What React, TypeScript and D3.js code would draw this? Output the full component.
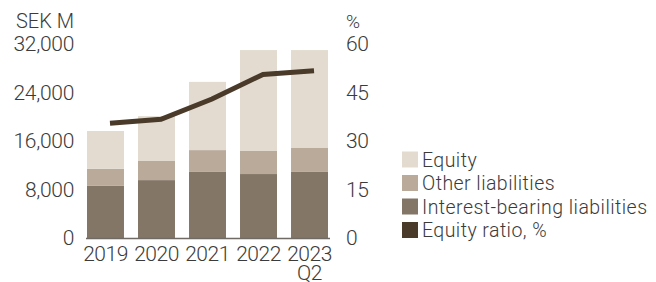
import React from "react";
import * as d3 from "d3";

const categories = ["2019", "2020", "2021", "2022", "2023\nQ2"];
const interestBearing = [8600, 9550, 10900, 10550, 10900];
const otherLiabilities = [2800, 3150, 3600, 3800, 3950];
const equity = [6250, 7400, 11250, 16650, 16150];
const equityRatio = [35.5, 36.7, 43.0, 50.6, 51.7];
const leftTicks = [0, 8000, 16000, 24000, 32000];
const rightTicks = [0, 15, 30, 45, 60];

const seriesNames = ["Equity", "Other liabilities", "Interest-bearing liabilities", "Equity ratio, %"];
const colors = ["#e3dbd0", "#b9aa9a", "#847667", "#4a3a2a"];

const W = 656;
const H = 282;
const FONT = "Roboto, 'Liberation Sans', sans-serif";
const TEXT = "#3b3b3b";

export default function App() {
  const x = d3.scaleBand<string>().domain(categories).range([87, 328]).paddingInner(0.275).paddingOuter(0);
  const y = d3.scaleLinear().domain([0, 32000]).range([238, 44]);
  const yr = d3.scaleLinear().domain([0, 60]).range([238, 44]);

  const rows = categories.map((c, i) => ({ c, ib: interestBearing[i], ot: otherLiabilities[i], eq: equity[i] }));
  const stack = d3.stack<any>().keys(["ib", "ot", "eq"])(rows);
  const stackColors = [colors[2], colors[1], colors[0]];

  const lineOffset = 4.5;
  const line = d3
    .line<number>()
    .x((_, i) => (x(categories[i]) as number) + x.bandwidth() / 2 + lineOffset)
    .y((d) => yr(d));

  const fmt = d3.format(",");

  return (
    <svg width={W} height={H} style={{ position: "absolute", left: 0, top: 0, background: "#fff" }} fontFamily={FONT}>
      {stack.map((layer, li) => (
        <g key={li} fill={stackColors[li]}>
          {layer.map((d, i) => (
            <rect key={i} x={x(categories[i])} y={y(d[1])} width={x.bandwidth()} height={y(d[0]) - y(d[1])} />
          ))}
        </g>
      ))}
      <line x1={86} x2={330} y1={238.5} y2={238.5} stroke="#6f6a64" strokeWidth={1.5} />
      <path d={line(equityRatio) || ""} fill="none" stroke={colors[3]} strokeWidth={5} strokeLinejoin="miter" />

      {/* left axis */}
      <text x={74} y={28} textAnchor="end" fontSize={20} fontWeight={300} fill={TEXT}>SEK M</text>
      {leftTicks.map((t) => (
        <text key={t} x={74} y={y(t) + 7} textAnchor="end" fontSize={21} fontWeight={300} fill={TEXT} letterSpacing={-0.3}>
          {fmt(t)}
        </text>
      ))}
      {/* right axis */}
      <text x={346} y={28} textAnchor="start" fontSize={19} fontWeight={300} fill={TEXT}>%</text>
      {rightTicks.map((t) => (
        <text key={t} x={346} y={yr(t) + 7} textAnchor="start" fontSize={21} fontWeight={300} fill={TEXT} letterSpacing={-0.3}>
          {t}
        </text>
      ))}
      {/* x labels */}
      {categories.map((c) => (
        <text key={c} x={(x(c) as number) + x.bandwidth() / 2} y={261} textAnchor="middle" fontSize={21} fontWeight={300} fill={TEXT} letterSpacing={-0.5}>
          {c.split("\n").map((ln, j) => (
            <tspan key={j} x={(x(c) as number) + x.bandwidth() / 2} dy={j === 0 ? 0 : 19}>{ln}</tspan>
          ))}
        </text>
      ))}
      {/* legend */}
      {seriesNames.map((n, i) => (
        <g key={n} transform={`translate(402, ${151.5 + i * 23.5})`}>
          <rect width={16} height={16} fill={colors[i]} />
          <text x={20} y={15} fontSize={19.5} fontWeight={300} fill={TEXT} letterSpacing={0.45}>{n}</text>
        </g>
      ))}
    </svg>
  );
}
